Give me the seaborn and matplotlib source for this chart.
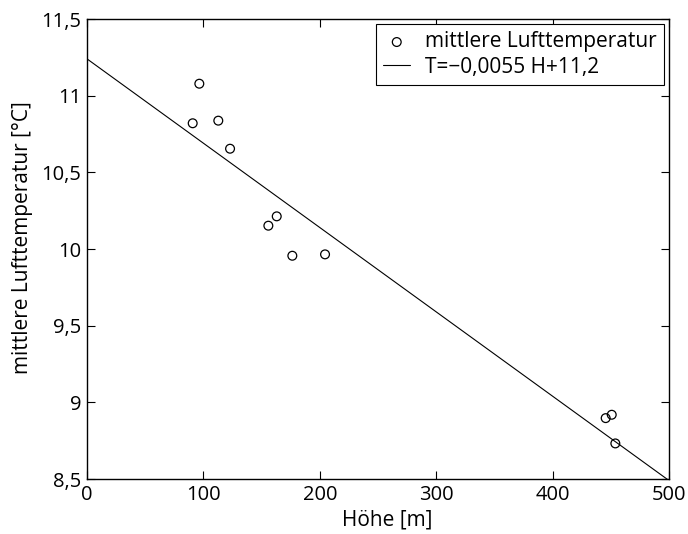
import matplotlib
matplotlib.use("Agg")
import matplotlib.pyplot as plt
import seaborn as sns
import numpy as np
import pandas as pd
from matplotlib.ticker import FuncFormatter

hoehe = [96.5, 90.8, 112.8, 122.9, 155.8, 163.0, 176.4, 204.5, 445.6, 450.8, 453.9]
temperatur = [11.078, 10.82, 10.837, 10.654, 10.152, 10.213, 9.956, 9.965, 8.897, 8.919, 8.732]
fit_h = [0, 500]
slope = -0.0055
intercept = 11.24
fit_t = [intercept + slope * h for h in fit_h]
xticks = [0, 100, 200, 300, 400, 500]
yticks = [8.5, 9, 9.5, 10, 10.5, 11, 11.5]

sns.set_style("ticks")
plt.rcParams['font.family'] = ['Open Sans', 'DejaVu Sans']
plt.rcParams['text.color'] = 'black'
plt.rcParams['axes.labelcolor'] = 'black'

fig = plt.figure(figsize=(6.88, 5.34), dpi=100)
ax = fig.add_axes([87/688, 55/534, 582/688, 460/534])

df_pts = pd.DataFrame({"h": hoehe, "t": temperatur})
df_fit = pd.DataFrame({"h": fit_h, "t": fit_t})

sns.scatterplot(data=df_pts, x="h", y="t", ax=ax, marker="o", s=40,
                facecolor="none", edgecolor="black", linewidth=0.9,
                label="mittlere Lufttemperatur", zorder=3)
sns.lineplot(data=df_fit, x="h", y="t", ax=ax, color="black", linewidth=0.8,
             label="T=\u22120,0055 H+11,2")

ax.set_xlim(0, 500)
ax.set_ylim(8.5, 11.5)
ax.set_xticks(xticks)
ax.set_yticks(yticks)
fmt = FuncFormatter(lambda v, p: ("%g" % v).replace(".", ","))
ax.xaxis.set_major_formatter(fmt)
ax.yaxis.set_major_formatter(fmt)
ax.tick_params(direction="in", length=6, width=0.8, top=True, right=True,
               labelsize=14.5, colors="black", pad=4)
for s in ax.spines.values():
    s.set_visible(True)
    s.set_linewidth(1.0)
    s.set_color("black")

ax.set_xlabel("Höhe [m]", fontsize=15, color="black")
ax.set_ylabel("mittlere Lufttemperatur [°C]", fontsize=15, color="black")
ax.xaxis.set_label_coords(0.516, -0.066)
ax.yaxis.set_label_coords(-0.093, 0.524)

leg = ax.legend(loc="upper right", fontsize=15, frameon=True, fancybox=False,
                edgecolor="black", framealpha=1, borderpad=0.35,
                handlelength=1.3, handletextpad=0.7, labelspacing=0.2,
                borderaxespad=0.25)
leg.get_frame().set_linewidth(0.8)
for t in leg.get_texts():
    t.set_color("black")

fig.savefig("out.png", dpi=100)
